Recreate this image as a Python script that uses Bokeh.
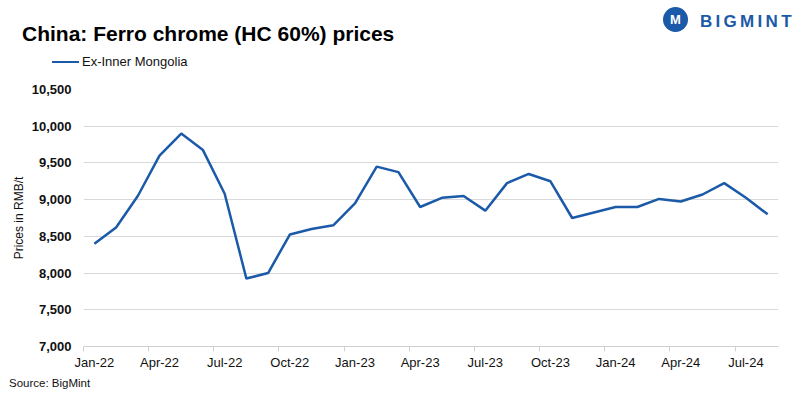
from bokeh.plotting import figure
from bokeh.models import (ColumnDataSource, FixedTicker, NumeralTickFormatter, Range1d, Div)
from bokeh.layouts import column
from bokeh.embed import file_html
from bokeh.resources import INLINE

months = ["Jan-22", "Feb-22", "Mar-22", "Apr-22", "May-22", "Jun-22", "Jul-22", "Aug-22",
          "Sep-22", "Oct-22", "Nov-22", "Dec-22", "Jan-23", "Feb-23", "Mar-23", "Apr-23",
          "May-23", "Jun-23", "Jul-23", "Aug-23", "Sep-23", "Oct-23", "Nov-23", "Dec-23",
          "Jan-24", "Feb-24", "Mar-24", "Apr-24", "May-24", "Jun-24", "Jul-24", "Aug-24"]
prices = [8400, 8620, 9050, 9600, 9900, 9675, 9080, 7925,
          8000, 8525, 8600, 8650, 8950, 9450, 9375, 8900,
          9025, 9050, 8850, 9225, 9350, 9250, 8750, 8825,
          8900, 8900, 9010, 8975, 9070, 9225, 9025, 8800]
y_ticks = [7000, 7500, 8000, 8500, 9000, 9500, 10000, 10500]
series_name = "Ex-Inner Mongolia"
title_text = "China: Ferro chrome (HC 60%) prices"
source_text = "Source: BigMint"
y_label = "Prices in RMB/t"
logo_text = "BIGMINT"

FONT = "Liberation Sans"
BLUE = "#1b5aa8"
W = 800
LEFT, RIGHT = 83, 778
HEAD_H, MAIN_H, FOOT_H = 81, 291, 27

xs = [i + 0.5 for i in range(len(months))]
src = ColumnDataSource(dict(x=xs, y=prices, m=months))

# ---------- header (HTML): title, legend, logo ----------
ab = "position:absolute;white-space:nowrap;margin:0;padding:0;"
head_html = (
    f'<div style="position:relative;width:{W}px;height:{HEAD_H}px;overflow:hidden;'
    f'font-family:\'{FONT}\';background:white;">'
    f'<span style="{ab}left:22px;top:23px;font-size:21px;line-height:21px;font-weight:bold;'
    f'color:#000;">{title_text}</span>'
    f'<span style="{ab}left:52px;top:60.5px;width:27px;height:2.2px;background:{BLUE};"></span>'
    f'<span style="{ab}left:82px;top:54.5px;font-size:13px;line-height:13px;color:#111;">'
    f'{series_name}</span>'
    f'<span style="{ab}left:663px;top:7px;width:25px;height:25px;border-radius:50%;'
    f'background:{BLUE};color:white;font-size:13px;line-height:25px;font-weight:bold;'
    f'text-align:center;">M</span>'
    f'<span style="{ab}left:700px;top:13px;font-size:17px;line-height:17px;font-weight:bold;'
    f'letter-spacing:3.3px;color:{BLUE};">{logo_text}</span>'
    f'</div>'
)
head = Div(text=head_html, width=W, height=HEAD_H, margin=0)

# ---------- main chart ----------
p = figure(width=W, height=MAIN_H, output_backend="svg", toolbar_location=None,
           x_range=Range1d(0, len(months)), y_range=Range1d(y_ticks[0], y_ticks[-1]),
           min_border_left=LEFT, min_border_right=W - RIGHT, min_border_top=8,
           min_border_bottom=25)
p.outline_line_color = None
p.background_fill_color = "white"
p.border_fill_color = "white"

r = p.line("x", "y", source=src, line_color=BLUE, line_width=2.5)

label_pos = [xs[i] for i in range(0, len(months), 3)]
tick_pos = [i for i in range(0, len(months), 3)]
p.xaxis.ticker = FixedTicker(ticks=label_pos, minor_ticks=tick_pos)
p.xaxis.major_label_overrides = {xs[i]: months[i] for i in range(0, len(months), 3)}
p.xaxis.major_tick_line_color = None
p.xaxis.major_tick_out = 0
p.xaxis.major_tick_in = 0
p.xaxis.minor_tick_line_color = "#d0d0d0"
p.xaxis.minor_tick_out = 5
p.xaxis.minor_tick_in = 0
p.xaxis.axis_line_color = "#d0d0d0"
p.xaxis.major_label_text_font = FONT
p.xaxis.major_label_text_font_size = "13px"
p.xaxis.major_label_text_color = "#111111"
p.xaxis.major_label_standoff = 3
p.xgrid.grid_line_color = None

p.yaxis.ticker = FixedTicker(ticks=y_ticks)
p.yaxis.formatter = NumeralTickFormatter(format="0,0")
p.yaxis.axis_line_color = None
p.yaxis.major_tick_line_color = None
p.yaxis.major_tick_out = 0
p.yaxis.minor_tick_line_color = None
p.yaxis.major_label_text_font = FONT
p.yaxis.major_label_text_font_style = "bold"
p.yaxis.major_label_text_font_size = "13px"
p.yaxis.major_label_text_color = "#111111"
p.yaxis.major_label_standoff = 12
p.yaxis.axis_label = y_label
p.yaxis.axis_label_text_font = FONT
p.yaxis.axis_label_text_font_style = "normal"
p.yaxis.axis_label_text_font_size = "12px"
p.yaxis.axis_label_text_color = "#111111"
p.yaxis.axis_label_standoff = 3
p.ygrid.grid_line_color = "#d9d9d9"
p.ygrid.grid_line_width = 1

# ---------- footer (HTML) ----------
foot_html = (
    f'<div style="position:relative;width:{W}px;height:{FOOT_H}px;overflow:hidden;'
    f'font-family:\'{FONT}\';background:white;">'
    f'<span style="{ab}left:9px;top:5.5px;font-size:11.5px;line-height:11.5px;color:#111;">'
    f'{source_text}</span></div>'
)
foot = Div(text=foot_html, width=W, height=FOOT_H, margin=0)

layout = column(head, p, foot, spacing=0)
open("out.html", "w").write(file_html(layout, INLINE))
